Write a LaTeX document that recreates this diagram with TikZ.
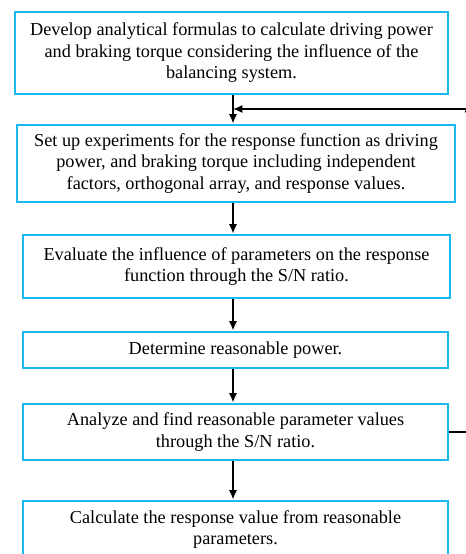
\documentclass[tikz,border=0pt]{standalone}
\usepackage{fontspec}
\setmainfont{Liberation Serif}
\usepackage{tikz}
\usetikzlibrary{arrows.meta, positioning}
\usepackage{xcolor}
\definecolor{boxblue}{RGB}{25,185,240}
\tikzstyle{process} = [rectangle, minimum width=318.75pt, minimum height=42pt, text centered, align=center, draw=boxblue, line width=2.2pt, fill=white, font=\fontsize{13.7}{16.1}\selectfont]
\tikzstyle{arrow} = [line width=1.1pt,-{Latex[length=7pt,width=6pt]}]

\begin{document}
\begin{tikzpicture}[x=0.75pt, y=-0.75pt]

\clip (0,0) rectangle (466,554);

% Steps
\node (develop) [process, minimum width=324.75pt, minimum height=61.5pt] at (231.5,53) {Develop analytical formulas to calculate driving power\\and braking torque considering the influence of the\\balancing system.};
\node (setup) [process, minimum width=328.5pt, minimum height=57.75pt] at (236,163.5) {Set up experiments for the response function as driving\\power, and braking torque including independent\\factors, orthogonal array, and response values.};
\node (evaluate) [process, minimum width=320.25pt, minimum height=47.25pt] at (236.5,266.5) {Evaluate the influence of parameters on the response\\function through the S/N ratio.};
\node (determine) [process, minimum height=27pt] at (235.5,350) {Determine reasonable power.};
\node (analyze) [process] at (235.5,432) {Analyze and find reasonable parameter values\\through the S/N ratio.};
\node (calculate) [process, minimum height=42.75pt] at (235.5,529.5) {Calculate the response value from reasonable\\parameters.};

% Column of the arrows and feedback loop
\coordinate (col) at (233,0);
\coordinate (join) at (233,109);
\coordinate (loopT) at (468.5,103);

% Arrows
\draw [arrow] (develop.south -| col) -- (setup.north -| col);
\draw [arrow] (setup.south -| col) -- (evaluate.north -| col);
\draw [arrow] (evaluate.south -| col) -- (determine.north -| col);
\draw [arrow] (determine.south -| col) -- (analyze.north -| col);
\draw [arrow] (analyze.south -| col) -- (calculate.north -| col);

% Feedback
\draw [arrow] (analyze.east) -| (loopT);
\draw [arrow] (loopT |- join) -- (join);

\end{tikzpicture}
\end{document}
